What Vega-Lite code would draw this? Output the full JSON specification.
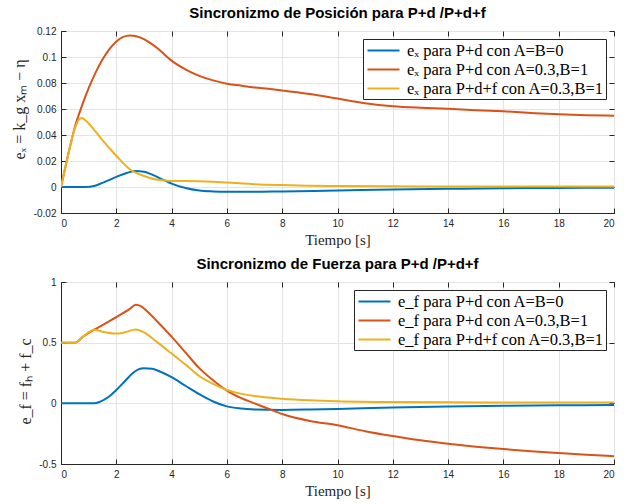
{
  "$schema": "https://vega.github.io/schema/vega-lite/v6.json",
  "background": "white",
  "padding": {"left": 10, "top": 5, "right": 6, "bottom": 2},
  "spacing": 8,
  "config": {
    "view": {"stroke": "#262626", "strokeWidth": 1},
    "axis": {
      "labelFont": "Liberation Sans", "labelFontSize": 10, "labelColor": "#262626",
      "titleFont": "Liberation Serif", "titleFontWeight": "normal", "titleColor": "#262626",
      "gridColor": "#e3e3e3", "domainColor": "#262626", "tickColor": "#262626",
      "ticks": true, "tickSize": -5, "labelPadding": 10
    },
    "title": {"font": "Liberation Sans", "fontSize": 15, "fontWeight": "bold", "color": "#000000", "offset": 5},
    "legend": {
      "labelFont": "Liberation Serif", "labelFontSize": 16.5, "labelColor": "#000000", "labelLimit": 0,
      "strokeColor": "#262626", "fillColor": "white", "padding": 2, "rowPadding": 1,
      "symbolType": "M-2,0H2", "symbolSize": 256, "symbolStrokeWidth": 2.2, "symbolOffset": 9,
      "orient": "top-right", "offset": 8, "labelOffset": 14, "title": null
    }
  },
  "datasets": {
    "top": [
      {"t": 0, "v": 0, "s": "A"}, {"t": 0.5, "v": 0, "s": "A"}, {"t": 0.9, "v": 0, "s": "A"}, {"t": 1.2, "v": 0.0008, "s": "A"}, {"t": 1.5, "v": 0.0032, "s": "A"}, {"t": 2, "v": 0.0078, "s": "A"}, {"t": 2.4, "v": 0.011, "s": "A"}, {"t": 2.7, "v": 0.0123, "s": "A"}, {"t": 3.0, "v": 0.0118, "s": "A"}, {"t": 3.4, "v": 0.0085, "s": "A"}, {"t": 3.7, "v": 0.0055, "s": "A"}, {"t": 4, "v": 0.0026, "s": "A"}, {"t": 4.5, "v": -0.0008, "s": "A"}, {"t": 5, "v": -0.0027, "s": "A"}, {"t": 5.5, "v": -0.0034, "s": "A"}, {"t": 6, "v": -0.0037, "s": "A"}, {"t": 7, "v": -0.0037, "s": "A"}, {"t": 8, "v": -0.0034, "s": "A"}, {"t": 10, "v": -0.0027, "s": "A"}, {"t": 12, "v": -0.002, "s": "A"}, {"t": 14, "v": -0.0014, "s": "A"}, {"t": 16, "v": -0.001, "s": "A"}, {"t": 18, "v": -0.0007, "s": "A"}, {"t": 20, "v": -0.0005, "s": "A"},
      {"t": 0, "v": 0, "s": "B"}, {"t": 0.25, "v": 0.024, "s": "B"}, {"t": 0.5, "v": 0.046, "s": "B"}, {"t": 0.75, "v": 0.062, "s": "B"}, {"t": 1, "v": 0.076, "s": "B"}, {"t": 1.25, "v": 0.088, "s": "B"}, {"t": 1.5, "v": 0.098, "s": "B"}, {"t": 1.75, "v": 0.106, "s": "B"}, {"t": 2, "v": 0.112, "s": "B"}, {"t": 2.25, "v": 0.1155, "s": "B"}, {"t": 2.5, "v": 0.1166, "s": "B"}, {"t": 2.75, "v": 0.1158, "s": "B"}, {"t": 3, "v": 0.1138, "s": "B"}, {"t": 3.25, "v": 0.1105, "s": "B"}, {"t": 3.5, "v": 0.1065, "s": "B"}, {"t": 3.75, "v": 0.1018, "s": "B"}, {"t": 4, "v": 0.0972, "s": "B"}, {"t": 4.5, "v": 0.0905, "s": "B"}, {"t": 5, "v": 0.0855, "s": "B"}, {"t": 5.5, "v": 0.082, "s": "B"}, {"t": 6, "v": 0.0795, "s": "B"}, {"t": 6.5, "v": 0.078, "s": "B"}, {"t": 7, "v": 0.0766, "s": "B"}, {"t": 7.5, "v": 0.0755, "s": "B"}, {"t": 8, "v": 0.0743, "s": "B"}, {"t": 9, "v": 0.0715, "s": "B"}, {"t": 10, "v": 0.068, "s": "B"}, {"t": 11, "v": 0.0645, "s": "B"}, {"t": 12, "v": 0.0622, "s": "B"}, {"t": 13, "v": 0.061, "s": "B"}, {"t": 14, "v": 0.0602, "s": "B"}, {"t": 15, "v": 0.059, "s": "B"}, {"t": 16, "v": 0.0582, "s": "B"}, {"t": 17, "v": 0.057, "s": "B"}, {"t": 18, "v": 0.0559, "s": "B"}, {"t": 19, "v": 0.0552, "s": "B"}, {"t": 20, "v": 0.0549, "s": "B"},
      {"t": 0, "v": 0, "s": "C"}, {"t": 0.25, "v": 0.024, "s": "C"}, {"t": 0.5, "v": 0.045, "s": "C"}, {"t": 0.65, "v": 0.052, "s": "C"}, {"t": 0.75, "v": 0.053, "s": "C"}, {"t": 0.9, "v": 0.051, "s": "C"}, {"t": 1.2, "v": 0.044, "s": "C"}, {"t": 1.5, "v": 0.036, "s": "C"}, {"t": 2, "v": 0.024, "s": "C"}, {"t": 2.5, "v": 0.0135, "s": "C"}, {"t": 3, "v": 0.0085, "s": "C"}, {"t": 3.5, "v": 0.0055, "s": "C"}, {"t": 4, "v": 0.0047, "s": "C"}, {"t": 4.5, "v": 0.0046, "s": "C"}, {"t": 5, "v": 0.0045, "s": "C"}, {"t": 5.5, "v": 0.0041, "s": "C"}, {"t": 6, "v": 0.0034, "s": "C"}, {"t": 7, "v": 0.0022, "s": "C"}, {"t": 8, "v": 0.0015, "s": "C"}, {"t": 9, "v": 0.001, "s": "C"}, {"t": 10, "v": 0.0007, "s": "C"}, {"t": 12, "v": 0.0005, "s": "C"}, {"t": 14, "v": 0.0004, "s": "C"}, {"t": 16, "v": 0.0003, "s": "C"}, {"t": 20, "v": 0.0003, "s": "C"}
    ],
    "bot": [
      {"t": 0, "v": 0, "s": "A"}, {"t": 1.2, "v": 0, "s": "A"}, {"t": 1.4, "v": 0.012, "s": "A"}, {"t": 1.7, "v": 0.05, "s": "A"}, {"t": 2, "v": 0.11, "s": "A"}, {"t": 2.3, "v": 0.18, "s": "A"}, {"t": 2.6, "v": 0.25, "s": "A"}, {"t": 2.8, "v": 0.28, "s": "A"}, {"t": 3, "v": 0.29, "s": "A"}, {"t": 3.3, "v": 0.285, "s": "A"}, {"t": 3.6, "v": 0.26, "s": "A"}, {"t": 4, "v": 0.215, "s": "A"}, {"t": 4.5, "v": 0.145, "s": "A"}, {"t": 5, "v": 0.075, "s": "A"}, {"t": 5.5, "v": 0.015, "s": "A"}, {"t": 6, "v": -0.025, "s": "A"}, {"t": 6.5, "v": -0.042, "s": "A"}, {"t": 7, "v": -0.05, "s": "A"}, {"t": 8, "v": -0.054, "s": "A"}, {"t": 9, "v": -0.051, "s": "A"}, {"t": 10, "v": -0.046, "s": "A"}, {"t": 12, "v": -0.035, "s": "A"}, {"t": 14, "v": -0.027, "s": "A"}, {"t": 16, "v": -0.02, "s": "A"}, {"t": 18, "v": -0.016, "s": "A"}, {"t": 20, "v": -0.014, "s": "A"},
      {"t": 0, "v": 0.5, "s": "B"}, {"t": 0.5, "v": 0.5, "s": "B"}, {"t": 0.8, "v": 0.55, "s": "B"}, {"t": 1.2, "v": 0.607, "s": "B"}, {"t": 1.5, "v": 0.645, "s": "B"}, {"t": 2, "v": 0.71, "s": "B"}, {"t": 2.5, "v": 0.78, "s": "B"}, {"t": 2.7, "v": 0.812, "s": "B"}, {"t": 2.9, "v": 0.8, "s": "B"}, {"t": 3.2, "v": 0.74, "s": "B"}, {"t": 3.5, "v": 0.67, "s": "B"}, {"t": 4, "v": 0.55, "s": "B"}, {"t": 4.5, "v": 0.42, "s": "B"}, {"t": 5, "v": 0.29, "s": "B"}, {"t": 5.5, "v": 0.19, "s": "B"}, {"t": 6, "v": 0.105, "s": "B"}, {"t": 6.5, "v": 0.045, "s": "B"}, {"t": 7, "v": 0, "s": "B"}, {"t": 7.5, "v": -0.045, "s": "B"}, {"t": 8, "v": -0.088, "s": "B"}, {"t": 9, "v": -0.145, "s": "B"}, {"t": 10, "v": -0.18, "s": "B"}, {"t": 11, "v": -0.23, "s": "B"}, {"t": 12, "v": -0.27, "s": "B"}, {"t": 13, "v": -0.305, "s": "B"}, {"t": 14, "v": -0.333, "s": "B"}, {"t": 15, "v": -0.357, "s": "B"}, {"t": 16, "v": -0.377, "s": "B"}, {"t": 17, "v": -0.394, "s": "B"}, {"t": 18, "v": -0.409, "s": "B"}, {"t": 19, "v": -0.423, "s": "B"}, {"t": 20, "v": -0.436, "s": "B"},
      {"t": 0, "v": 0.5, "s": "C"}, {"t": 0.5, "v": 0.5, "s": "C"}, {"t": 0.8, "v": 0.55, "s": "C"}, {"t": 1.2, "v": 0.607, "s": "C"}, {"t": 1.5, "v": 0.59, "s": "C"}, {"t": 2, "v": 0.575, "s": "C"}, {"t": 2.3, "v": 0.585, "s": "C"}, {"t": 2.7, "v": 0.608, "s": "C"}, {"t": 3, "v": 0.585, "s": "C"}, {"t": 3.5, "v": 0.5, "s": "C"}, {"t": 4, "v": 0.41, "s": "C"}, {"t": 4.5, "v": 0.32, "s": "C"}, {"t": 5, "v": 0.225, "s": "C"}, {"t": 5.5, "v": 0.16, "s": "C"}, {"t": 6, "v": 0.11, "s": "C"}, {"t": 6.5, "v": 0.08, "s": "C"}, {"t": 7, "v": 0.06, "s": "C"}, {"t": 8, "v": 0.038, "s": "C"}, {"t": 9, "v": 0.025, "s": "C"}, {"t": 10, "v": 0.017, "s": "C"}, {"t": 12, "v": 0.01, "s": "C"}, {"t": 14, "v": 0.008, "s": "C"}, {"t": 16, "v": 0.007, "s": "C"}, {"t": 18, "v": 0.006, "s": "C"}, {"t": 20, "v": 0.006, "s": "C"}
    ]
  },
  "vconcat": [
    {
      "title": "Sincronizmo de Posición para P+d /P+d+f",
      "width": 553, "height": 182,
      "data": {"name": "top"},
      "transform": [{"lookup": "s", "from": {"data": {"values": [{"s": "A", "name": "eₓ para P+d con A=B=0"}, {"s": "B", "name": "eₓ para P+d con A=0.3,B=1"}, {"s": "C", "name": "eₓ para P+d+f con A=0.3,B=1"}]}, "key": "s", "fields": ["name"]}}],
      "layer": [
        {
          "mark": {"type": "line", "strokeWidth": 2, "clip": true, "interpolate": "monotone"},
          "encoding": {
            "x": {"field": "t", "type": "quantitative", "scale": {"domain": [0, 20], "nice": false}, "axis": {"values": [0, 2, 4, 6, 8, 10, 12, 14, 16, 18, 20], "title": "Tiempo [s]", "titleFontSize": 15, "titlePadding": 4}},
            "y": {"field": "v", "type": "quantitative", "scale": {"domain": [-0.02, 0.12], "nice": false, "zero": false}, "axis": {"values": [-0.02, 0, 0.02, 0.04, 0.06, 0.08, 0.1, 0.12], "labelExpr": "replace(format(datum.value, '~g'), '−', '-')", "title": "eₓ = k_g xₘ − η", "titleFontSize": 16, "titlePadding": 6, "titleY": 78}},
            "color": {"field": "name", "type": "nominal", "sort": ["eₓ para P+d con A=B=0", "eₓ para P+d con A=0.3,B=1", "eₓ para P+d+f con A=0.3,B=1"], "scale": {"domain": ["eₓ para P+d con A=B=0", "eₓ para P+d con A=0.3,B=1", "eₓ para P+d+f con A=0.3,B=1"], "range": ["#0072BD", "#D95319", "#EDB120"]}},
            "order": {"field": "t", "type": "quantitative"}
          }
        },
        {
          "mark": {"type": "point", "opacity": 0},
          "encoding": {
            "x": {"field": "t", "type": "quantitative", "axis": {"orient": "top", "values": [0, 2, 4, 6, 8, 10, 12, 14, 16, 18, 20], "labels": false, "grid": false, "domain": false, "title": null, "minExtent": 0, "maxExtent": 0}},
            "y": {"field": "v", "type": "quantitative", "axis": {"orient": "right", "values": [-0.02, 0, 0.02, 0.04, 0.06, 0.08, 0.1, 0.12], "labels": false, "grid": false, "domain": false, "title": null, "minExtent": 0, "maxExtent": 0}}
          }
        }
      ],
      "resolve": {"axis": {"x": "independent", "y": "independent"}}
    },
    {
      "title": "Sincronizmo de Fuerza para P+d /P+d+f",
      "width": 553, "height": 182,
      "data": {"name": "bot"},
      "transform": [{"lookup": "s", "from": {"data": {"values": [{"s": "A", "name": "e_f para P+d con A=B=0"}, {"s": "B", "name": "e_f para P+d con A=0.3,B=1"}, {"s": "C", "name": "e_f para P+d+f con A=0.3,B=1"}]}, "key": "s", "fields": ["name"]}}],
      "layer": [
        {
          "mark": {"type": "line", "strokeWidth": 2, "clip": true, "interpolate": "monotone"},
          "encoding": {
            "x": {"field": "t", "type": "quantitative", "scale": {"domain": [0, 20], "nice": false}, "axis": {"values": [0, 2, 4, 6, 8, 10, 12, 14, 16, 18, 20], "title": "Tiempo [s]", "titleFontSize": 15, "titlePadding": 4}},
            "y": {"field": "v", "type": "quantitative", "scale": {"domain": [-0.5, 1], "nice": false, "zero": false}, "axis": {"values": [-0.5, 0, 0.5, 1], "labelExpr": "replace(format(datum.value, '~g'), '−', '-')", "title": "e_f = fₕ + f_c", "titleFontSize": 16, "titlePadding": 5, "titleY": 99}},
            "color": {"field": "name", "type": "nominal", "sort": ["e_f para P+d con A=B=0", "e_f para P+d con A=0.3,B=1", "e_f para P+d+f con A=0.3,B=1"], "scale": {"domain": ["e_f para P+d con A=B=0", "e_f para P+d con A=0.3,B=1", "e_f para P+d+f con A=0.3,B=1"], "range": ["#0072BD", "#D95319", "#EDB120"]}},
            "order": {"field": "t", "type": "quantitative"}
          }
        },
        {
          "mark": {"type": "point", "opacity": 0},
          "encoding": {
            "x": {"field": "t", "type": "quantitative", "axis": {"orient": "top", "values": [0, 2, 4, 6, 8, 10, 12, 14, 16, 18, 20], "labels": false, "grid": false, "domain": false, "title": null, "minExtent": 0, "maxExtent": 0}},
            "y": {"field": "v", "type": "quantitative", "axis": {"orient": "right", "values": [-0.5, 0, 0.5, 1], "labels": false, "grid": false, "domain": false, "title": null, "minExtent": 0, "maxExtent": 0}}
          }
        }
      ],
      "resolve": {"axis": {"x": "independent", "y": "independent"}}
    }
  ],
  "resolve": {"scale": {"color": "independent"}, "legend": {"color": "independent"}}
}
